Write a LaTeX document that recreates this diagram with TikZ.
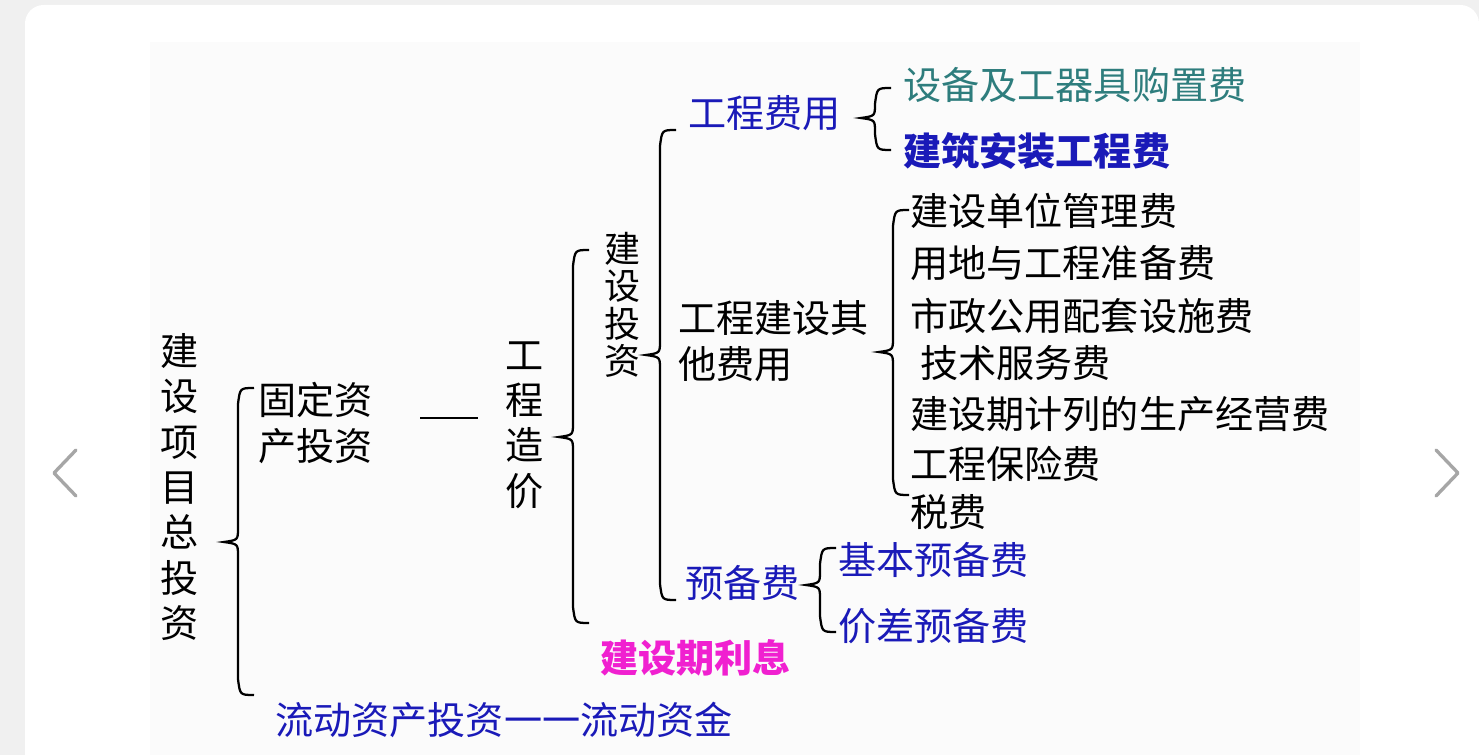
\documentclass[tikz,border=0pt]{standalone}
\usepackage{fontspec}
\newfontfamily\cjk{Noto Sans CJK SC}
\definecolor{tblue}{HTML}{1A1AB8}
\definecolor{tteal}{HTML}{2E7D7D}
\definecolor{tmag}{HTML}{F020D0}
\newcommand\brc[4]{\draw[line width=1.7pt] (#1+16,#2) .. controls (#1+2,#2) .. (#1,#2+16) -- (#1,#3-14) .. controls (#1,#3-2) .. (#1-14,#3) .. controls (#1,#3+2) .. (#1,#3+14) -- (#1,#4-16) .. controls (#1+2,#4) .. (#1+16,#4);}
\tikzset{t/.style={font=\cjk\fontsize{28.6}{36}\selectfont,inner sep=0pt,anchor=west},
 v/.style={font=\cjk\fontsize{28.6}{34}\selectfont,inner sep=0pt,align=center,text width=30pt}}
\begin{document}
\begin{tikzpicture}[x=0.75pt,y=-0.75pt]
\useasboundingbox (0,0) rectangle (1479,755);
\fill[gray!12] (0,0) rectangle (1479,755);
\fill[white,rounded corners=14pt] (25,5) rectangle (1479,780);
\fill[white!97!gray] (150,42) rectangle (1360,755);
\draw[gray!70,line width=2.5pt,line cap=round,line join=round] (76,450) -- (54,473) -- (76,496);
\draw[gray!70,line width=2.5pt,line cap=round,line join=round] (1436,450) -- (1458,473) -- (1436,496);
\brc{238}{388}{542}{695}
\brc{573}{250}{437}{623}
\brc{660}{130}{355}{600}
\brc{875}{88}{118}{150}
\brc{893}{210}{352}{495}
\brc{820}{548}{585}{632}
\node[v] (a) at (180,487) {建\\设\\项\\目\\总\\投\\资};
\node[t] (b1) at (258,400) {固定资};
\node[t] (b2) at (258,446) {产投资};
\draw[line width=1.7pt] (420,418) coordinate (d1) -- (478,418) coordinate (d2);
\node[v] (c) at (525,425) {工\\程\\造\\价};
\node[v,font=\cjk\fontsize{27}{28}\selectfont] (e) at (622,305) {建\\设\\投\\资};
\node[t,tblue] (f) at (688,113) {工程费用};
\node[t,tteal] (f1) at (903,85) {设备及工器具购置费};
\node[t,tblue,font=\cjk\bfseries\fontsize{28.6}{36}\selectfont] (f2) at (903,151) {建筑安装工程费};
\node[t] (g1) at (678,318) {工程建设其};
\node[t] (g2) at (678,364) {他费用};
\node[t] (h1) at (910,211) {建设单位管理费};
\node[t] (h2) at (910,263) {用地与工程准备费};
\node[t] (h3) at (910,316) {市政公用配套设施费};
\node[t] (h4) at (920,363) {技术服务费};
\node[t] (h5) at (910,414) {建设期计列的生产经营费};
\node[t] (h6) at (910,464) {工程保险费};
\node[t] (h7) at (910,512) {税费};
\node[t,tblue] (i) at (685,583) {预备费};
\node[t,tblue] (i1) at (838,560) {基本预备费};
\node[t,tblue] (i2) at (838,626) {价差预备费};
\node[t,tmag,font=\cjk\bfseries\fontsize{28.6}{36}\selectfont] (j) at (600,658) {建设期利息};
\node[t,tblue] (k) at (275,720) {流动资产投资一一流动资金};
\end{tikzpicture}
\end{document}
